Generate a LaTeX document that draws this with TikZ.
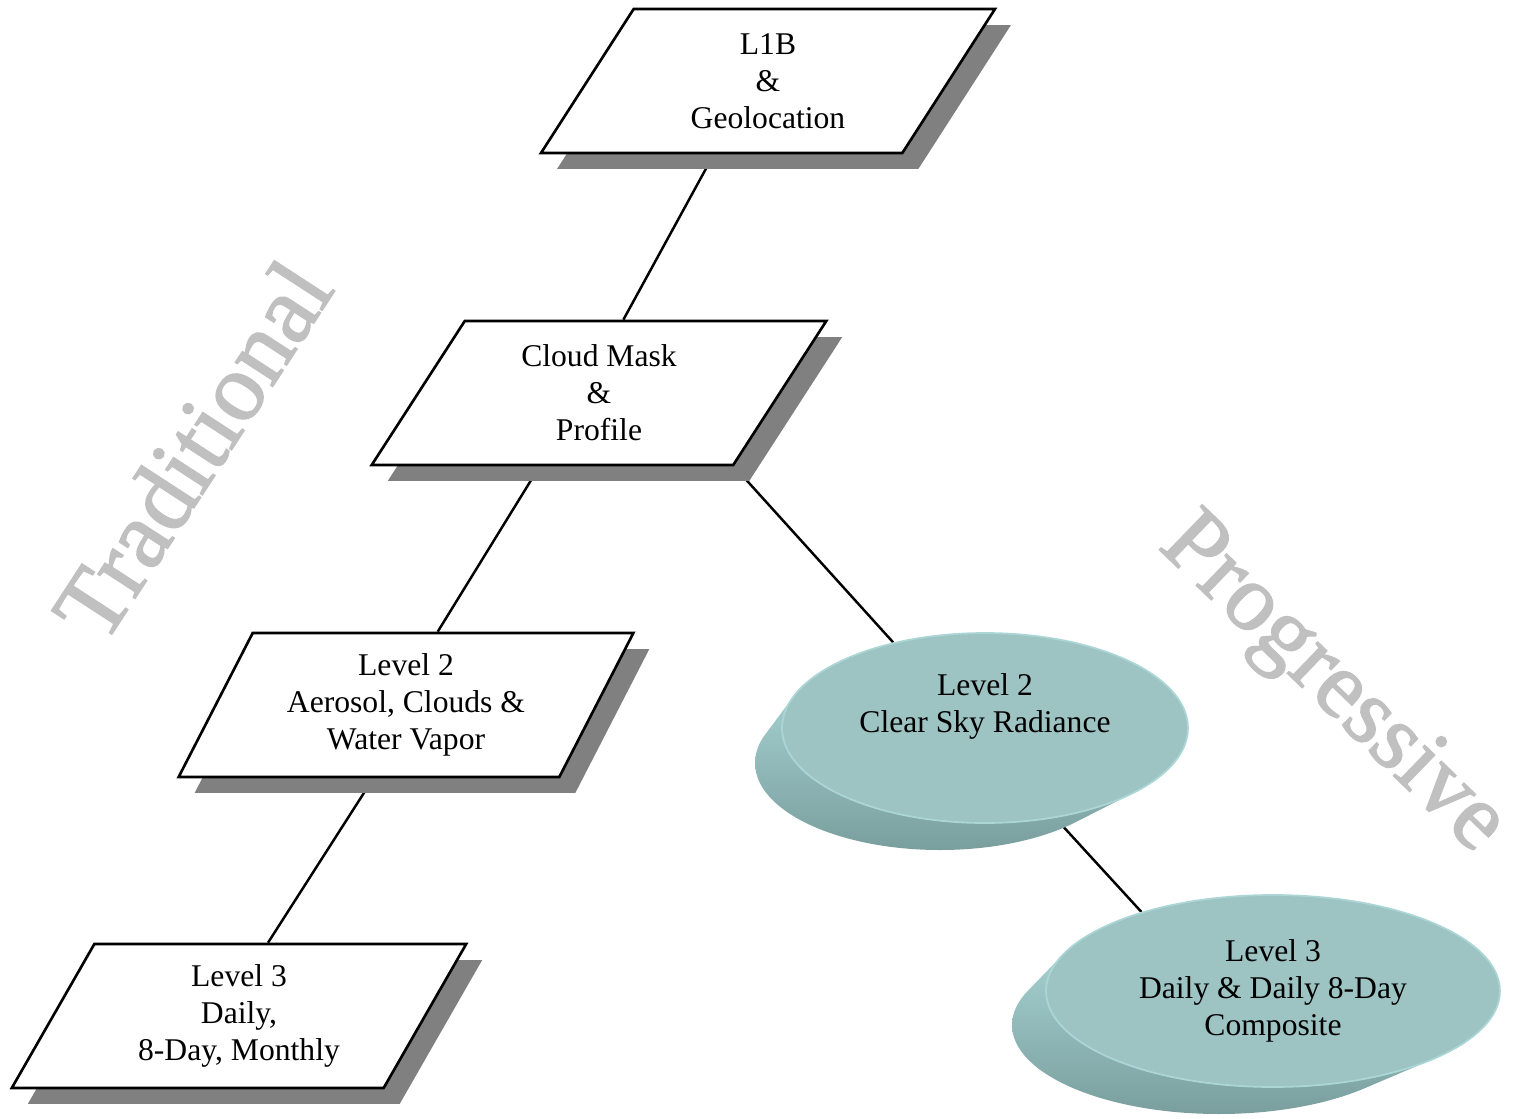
\documentclass[tikz,border=0pt]{standalone}
\usepackage{fontspec}
\setmainfont{Liberation Serif}
\newfontfamily\wmfont{Liberation Serif}[FakeBold=1.6]
\usetikzlibrary{shapes.geometric,shadows,calc,backgrounds}
\definecolor{sh}{RGB}{128,128,128}
\definecolor{face}{RGB}{157,195,195}
\definecolor{rim}{RGB}{172,214,214}
\definecolor{lite}{RGB}{180,226,226}
\definecolor{dark}{RGB}{122,158,158}
\definecolor{wm}{RGB}{192,192,192}

\begin{document}
\begin{tikzpicture}[x=0.02cm,y=-0.02cm,
  box/.style={trapezium,trapezium left angle=60.7,trapezium right angle=119.3,
    trapezium stretches=true,minimum width=9.1cm,minimum height=2.88cm,inner sep=0pt,
    draw,line width=1.5pt,fill=white,
    drop shadow={shadow xshift=0.32cm,shadow yshift=-0.32cm,fill=sh,opacity=1}},
  disctop/.style={ellipse,draw=rim,line width=1pt,fill=face,inner sep=0pt},
  txt/.style={align=center,font=\fontsize{18}{21}\selectfont},
  wmark/.style={text=wm,font=\wmfont\fontsize{55}{60}\selectfont},
  link/.style={line width=1.4pt}]
\useasboundingbox (0,0) rectangle (1516,1119);

% watermarks
\node[wmark,rotate=57] (trad) at (192,450) {Traditional};
\node[wmark,rotate=-44,font=\wmfont\fontsize{54}{60}\selectfont] (prog) at (1331,686) {Progressive};

% left column
\node[box,txt] (l1b) at (768,81) {L1B\\\&\\Geolocation};
\node[box,txt] (cloud) at (599,393) {Cloud Mask\\\&\\Profile};
\node[box,txt] (aer) at (406,705) {Level 2\\Aerosol, Clouds \&\\Water Vapor};
\node[box,txt] (lvl3) at (239,1016) {Level 3\\Daily,\\8-Day, Monthly};

% discs (side first, then top)
\shade[top color=lite,bottom color=dark] \foreach \k in {0,...,15}{
  ({985-45*\k/15},{728+35*\k/15}) ellipse [x radius={(203-18*\k/15)*0.02cm}, y radius={(95-8*\k/15)*0.02cm}]};
\node[disctop,minimum width=8.12cm,minimum height=3.8cm] (csr) at (985,728) {};
\node[txt] (csrtext) at (985,706) {Level 2\\Clear Sky Radiance};

\shade[top color=lite,bottom color=dark] \foreach \k in {0,...,15}{
  ({1273-54*\k/15},{991+34*\k/15}) ellipse [x radius={(227-20*\k/15)*0.02cm}, y radius={(96-7*\k/15)*0.02cm}]};
\node[disctop,txt,minimum width=9.08cm,minimum height=3.84cm] (comp) at (1273,991) {Level 3\\Daily \& Daily 8-Day\\Composite};

% connectors
\begin{scope}[on background layer]
\draw[link] ($(l1b.bottom side)+(-7,0)$) -- ($(cloud.top side)+(-23,0)$);
\draw[link] ($(cloud.bottom side)+(-12,0)$) -- ($(aer.top side)+(-6,0)$);
\draw[link] ($(aer.bottom side)+(5,0)$) -- ($(lvl3.top side)+(-13,0)$);
\draw[link] (cloud.bottom right corner) -- (csr.137);
\draw[link] (csr.-52) -- (comp.149);
\end{scope}
\end{tikzpicture}
\end{document}
